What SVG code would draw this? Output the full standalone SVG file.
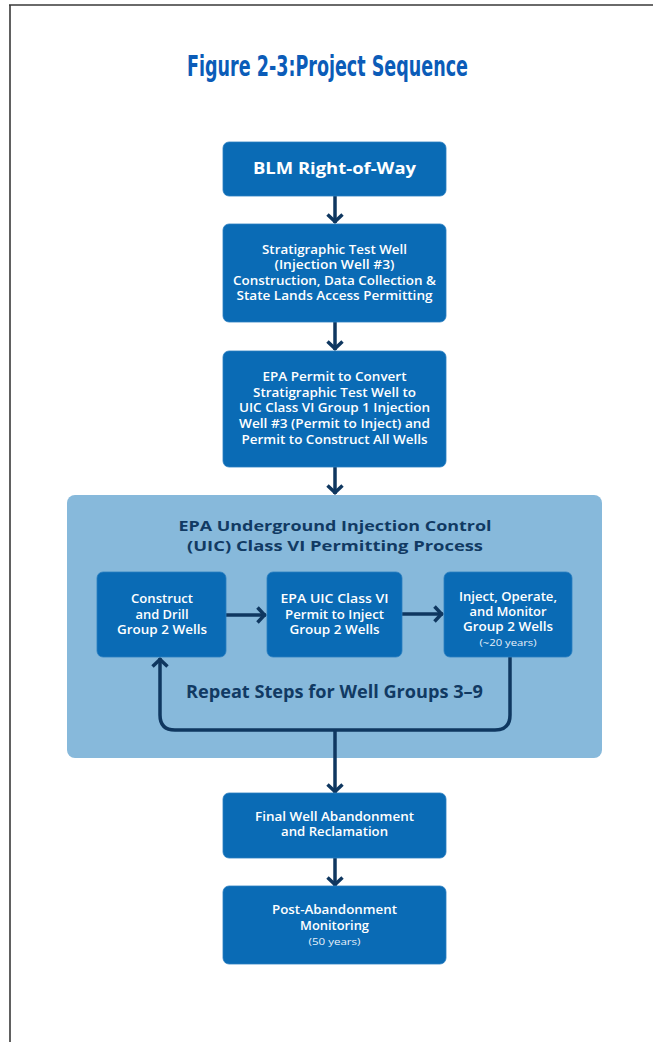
<svg xmlns="http://www.w3.org/2000/svg" width="653" height="1042" viewBox="0 0 653 1042">
<defs>
<style>
.frame{stroke:#3a3a3a;stroke-width:1.6;fill:none}
.title{font-family:"Liberation Sans Narrow","DejaVu Sans Condensed","Liberation Sans",sans-serif;font-weight:bold;font-size:29px;fill:#0b5cb8}
.box{fill:#0a6bb5;stroke:#2a7dc0;stroke-width:0.8}
.panel{fill:#87b9db}
.t{font-family:"Open Sans","Liberation Sans",sans-serif;font-weight:600;font-size:12.5px;fill:#ffffff;text-anchor:middle}
.s{font-family:"Open Sans","Liberation Sans",sans-serif;font-weight:400;font-size:9.5px;fill:#e6f0fa;text-anchor:middle}
.big{font-family:"Open Sans","Liberation Sans",sans-serif;font-weight:700;font-size:16.5px;fill:#ffffff;text-anchor:middle}
.nav{font-family:"Open Sans","Liberation Sans",sans-serif;font-weight:700;font-size:14.5px;fill:#113a63;text-anchor:middle}
.c{stroke:#0f3760;stroke-width:3.5;fill:none;marker-end:url(#ah)}
</style>
<marker id="ah" markerUnits="userSpaceOnUse" viewBox="-12 -10 14 20" refX="0" refY="0" markerWidth="14" markerHeight="20" orient="auto">
<path d="M-8.5,-7.5 L-1.5,0 L-8.5,7.5" fill="none" stroke="#0f3760" stroke-width="3.5"/>
</marker>
</defs>
<rect width="653" height="1042" fill="#ffffff"/>
<path class="frame" d="M9,5 H653 M10,5 V1042"/>
<text class="title" x="187" y="76" textLength="281" lengthAdjust="spacingAndGlyphs">Figure 2-3:Project Sequence</text>

<g id="panel">
<rect class="panel" x="67" y="495" width="535" height="263" rx="8"/>
<text class="nav" x="335" y="530.5" textLength="313" lengthAdjust="spacingAndGlyphs">EPA Underground Injection Control</text>
<text class="nav" x="335" y="550.5" textLength="296" lengthAdjust="spacingAndGlyphs">(UIC) Class VI Permitting Process</text>
<text class="nav" x="334.5" y="698" style="font-size:17px" textLength="297" lengthAdjust="spacingAndGlyphs">Repeat Steps for Well Groups 3–9</text>
</g>

<g id="connectors">
<line class="c" x1="335" y1="196" x2="335" y2="223"/>
<line class="c" x1="335" y1="322" x2="335" y2="350"/>
<line class="c" x1="335" y1="467" x2="335" y2="494"/>
<line class="c" x1="226" y1="615" x2="266" y2="615"/>
<line class="c" x1="402" y1="614" x2="443" y2="614"/>
<path class="c" d="M510,657 V715 Q510,730 495,730 H175 Q160,730 160,715 V658"/>
<line class="c" x1="335" y1="730" x2="335" y2="793"/>
<line class="c" x1="335" y1="858" x2="335" y2="886"/>
</g>

<g id="n1">
<rect class="box" x="223" y="142" width="223" height="54" rx="6"/>
<text class="big" x="334.5" y="174" textLength="163" lengthAdjust="spacingAndGlyphs">BLM Right-of-Way</text>
</g>

<g id="n2">
<rect class="box" x="223" y="224" width="223" height="98" rx="6"/>
<text class="t" x="334.5" y="253.5" textLength="145" lengthAdjust="spacingAndGlyphs">Stratigraphic Test Well</text>
<text class="t" x="334.5" y="269" textLength="120" lengthAdjust="spacingAndGlyphs">(Injection Well #3)</text>
<text class="t" x="334.5" y="284.5" textLength="203" lengthAdjust="spacingAndGlyphs">Construction, Data Collection &amp;</text>
<text class="t" x="334.5" y="300" textLength="196" lengthAdjust="spacingAndGlyphs">State Lands Access Permitting</text>
</g>

<g id="n3">
<rect class="box" x="223" y="351" width="223" height="116" rx="6"/>
<text class="t" x="334.5" y="381" textLength="144" lengthAdjust="spacingAndGlyphs">EPA Permit to Convert</text>
<text class="t" x="334.5" y="397" textLength="163" lengthAdjust="spacingAndGlyphs">Stratigraphic Test Well to</text>
<text class="t" x="334.5" y="412" textLength="191" lengthAdjust="spacingAndGlyphs">UIC Class VI Group 1 Injection</text>
<text class="t" x="334.5" y="428" textLength="191" lengthAdjust="spacingAndGlyphs">Well #3 (Permit to Inject) and</text>
<text class="t" x="334.5" y="443.5" textLength="186" lengthAdjust="spacingAndGlyphs">Permit to Construct All Wells</text>
</g>

<g id="nA">
<rect class="box" x="97" y="572" width="129" height="85" rx="6"/>
<text class="t" x="162" y="603" textLength="62" lengthAdjust="spacingAndGlyphs">Construct</text>
<text class="t" x="162" y="618.5" textLength="53" lengthAdjust="spacingAndGlyphs">and Drill</text>
<text class="t" x="162" y="634" textLength="90" lengthAdjust="spacingAndGlyphs">Group 2 Wells</text>
</g>

<g id="nB">
<rect class="box" x="267" y="572" width="135" height="85" rx="6"/>
<text class="t" x="334.5" y="603" textLength="108" lengthAdjust="spacingAndGlyphs">EPA UIC Class VI</text>
<text class="t" x="334.5" y="618.5" textLength="99" lengthAdjust="spacingAndGlyphs">Permit to Inject</text>
<text class="t" x="334.5" y="634" textLength="90" lengthAdjust="spacingAndGlyphs">Group 2 Wells</text>
</g>

<g id="nC">
<rect class="box" x="444" y="572" width="128" height="85" rx="6"/>
<text class="t" x="508" y="600.5" textLength="98" lengthAdjust="spacingAndGlyphs">Inject, Operate,</text>
<text class="t" x="508" y="615.5" textLength="77" lengthAdjust="spacingAndGlyphs">and Monitor</text>
<text class="t" x="508" y="631" textLength="90" lengthAdjust="spacingAndGlyphs">Group 2 Wells</text>
<text class="s" x="508" y="646" textLength="57" lengthAdjust="spacingAndGlyphs">(~20 years)</text>
</g>

<g id="n4">
<rect class="box" x="223" y="793" width="223" height="65" rx="6"/>
<text class="t" x="334.5" y="821" textLength="159" lengthAdjust="spacingAndGlyphs">Final Well Abandonment</text>
<text class="t" x="334.5" y="836" textLength="107" lengthAdjust="spacingAndGlyphs">and Reclamation</text>
</g>

<g id="n5">
<rect class="box" x="223" y="886" width="223" height="78" rx="6"/>
<text class="t" x="334.5" y="914" textLength="125" lengthAdjust="spacingAndGlyphs">Post-Abandonment</text>
<text class="t" x="334.5" y="929.5" textLength="69" lengthAdjust="spacingAndGlyphs">Monitoring</text>
<text class="s" x="334.5" y="945" textLength="52" lengthAdjust="spacingAndGlyphs">(50 years)</text>
</g>
</svg>
